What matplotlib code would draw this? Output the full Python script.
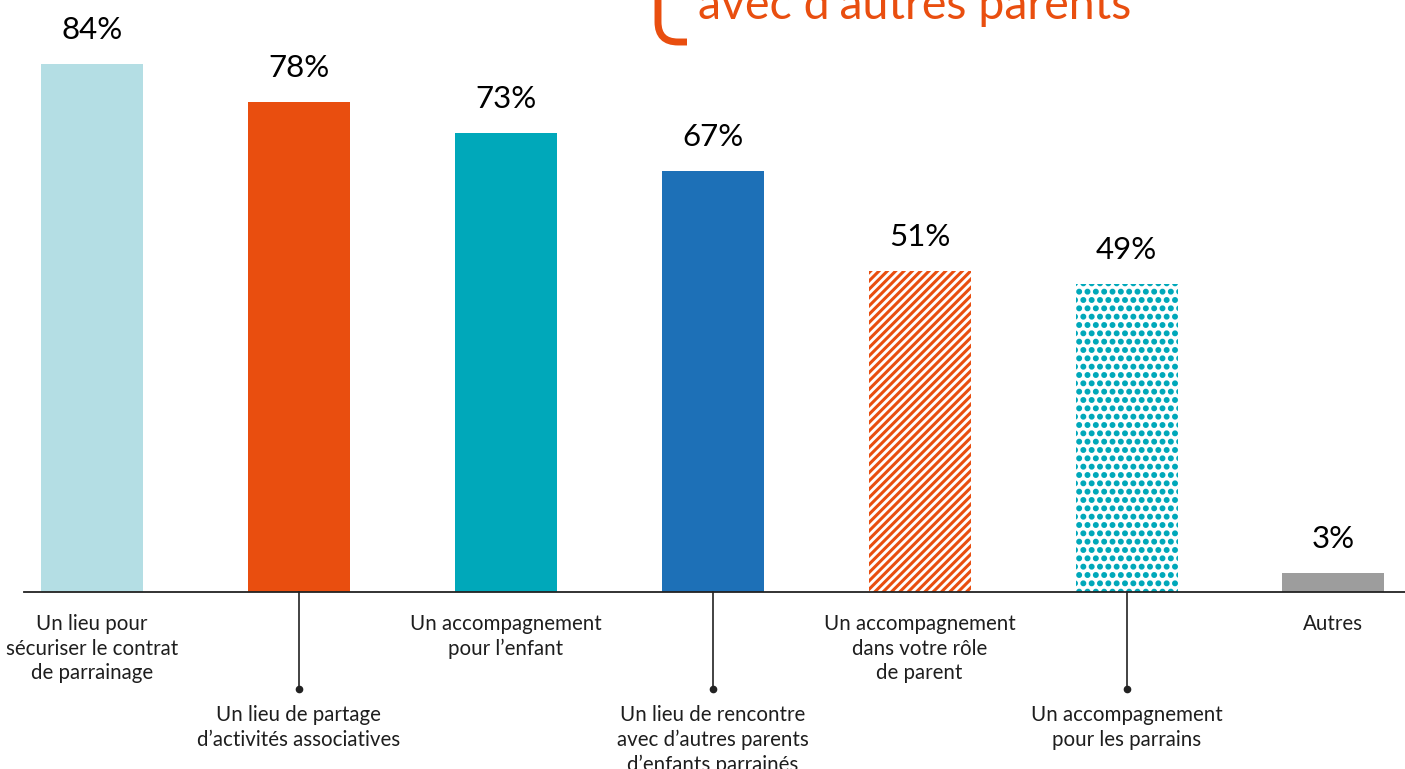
import matplotlib
matplotlib.use("Agg")
import matplotlib.pyplot as plt
import matplotlib.hatch
from matplotlib.path import Path
from matplotlib.patches import PathPatch

# data
categories = [
    "Un lieu pour\nsécuriser le contrat\nde parrainage",
    "Un lieu de partage\nd’activités associatives",
    "Un accompagnement\npour l’enfant",
    "Un lieu de rencontre\navec d’autres parents\nd’enfants parrainés",
    "Un accompagnement\ndans votre rôle\nde parent",
    "Un accompagnement\npour les parrains",
    "Autres",
]
values = [84, 78, 73, 67, 51, 49, 3]
colors = ["#B4DEE4", "#E94E0F", "#00A8BA", "#1D70B7", "#E94E0F", "#00A8BA", "#9D9D9D"]
hatches = [None, None, None, None, "////", "..", None]
label_row = [0, 1, 0, 1, 0, 1, 0]
title_text = "avec d’autres parents"

ORANGE = "#E94E0F"
TXT = "#1E1E1E"
W, H = 1405, 769

plt.rcParams["font.family"] = ["Lato", "DejaVu Sans"]
plt.rcParams["hatch.linewidth"] = 2.2
# slightly bigger dots for the '.' hatch
matplotlib.hatch.SmallFilledCircles.size = 0.17

fig = plt.figure(figsize=(W / 100, H / 100), dpi=100)
ax = fig.add_axes([24 / W, 177 / H, (W - 24) / W, 553.2 / H])

for i, (v, c, h) in enumerate(zip(values, colors, hatches)):
    if h is None:
        ax.bar(i, v, width=0.493, color=c, linewidth=0)
    else:
        ax.bar(i, v, width=0.493, facecolor="white", edgecolor=c, hatch=h, linewidth=0)
    ax.annotate(f"{v}%", xy=(i, v), xytext=(0, 18), textcoords="offset points",
                ha="center", va="baseline", fontsize=22.5, color="black")

ax.set_xlim(-0.3287, 6.346)
ax.set_ylim(0, 88)
for s in ["top", "right", "left"]:
    ax.spines[s].set_visible(False)
ax.spines["bottom"].set_linewidth(1.3)
ax.spines["bottom"].set_color("#222222")
ax.set_xticks([])
ax.set_yticks([])

xtr = ax.get_xaxis_transform()
row_y = [-0.0398, -0.2043]
lead_y = -0.1753
for i, (lab, r) in enumerate(zip(categories, label_row)):
    ax.text(i, row_y[r], lab, transform=xtr, ha="center", va="top",
            fontsize=14.8, color=TXT, linespacing=1.29, clip_on=False)
    if r == 1:
        ax.plot([i, i], [0, lead_y], transform=xtr, color="#222222", lw=1.2,
                clip_on=False)
        ax.plot(i, lead_y, "o", transform=xtr, color="#222222", ms=4.5,
                clip_on=False)

# cropped title at the top
fig.text(698 / W, 1 - 19 / H, title_text, color=ORANGE, fontsize=33.5,
         ha="left", va="baseline")
pts = [(658, -10), (658, 22), (658, 42), (678, 42), (687, 42)]
codes = [Path.MOVETO, Path.LINETO, Path.CURVE3, Path.CURVE3, Path.LINETO]
bracket = Path([(x / W, 1 - y / H) for x, y in pts], codes)
fig.add_artist(PathPatch(bracket, transform=fig.transFigure, fill=False,
                         edgecolor=ORANGE, lw=5, capstyle="butt"))

fig.savefig("out.png", dpi=100)
